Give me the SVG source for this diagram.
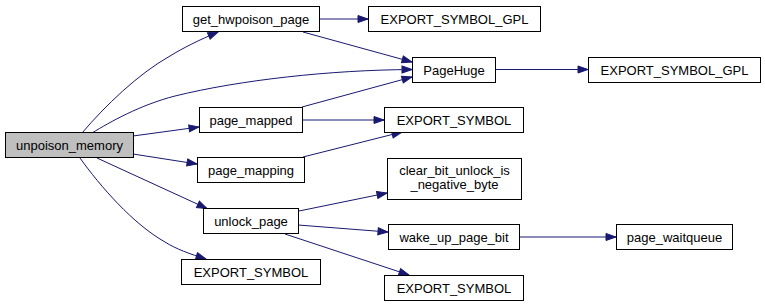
<svg xmlns="http://www.w3.org/2000/svg" width="765" height="307" viewBox="0 0 765 307">
  <style>
    .node rect { fill: #ffffff; stroke: #000000; stroke-width: 1; }
    .node.root rect { fill: #bfbfbf; }
    .node text { font-family: "Liberation Sans", Arial, sans-serif; font-size: 13px; fill: #000000; text-anchor: middle; }
    .edges path { fill: none; stroke: #191970; stroke-width: 1; marker-end: url(#arrow); }
  </style>
  <defs>
    <marker id="arrow" markerUnits="userSpaceOnUse" markerWidth="12" markerHeight="9" refX="11" refY="4" orient="auto" viewBox="0 0 12 8">
      <path d="M1,0.5 L11,4 L1,7.5 Z" fill="#191970" stroke="#191970" stroke-width="1"/>
    </marker>
  </defs>
  <rect width="765" height="307" fill="#ffffff"/>

  <g class="edges">
    <!-- unpoison_memory callees -->
    <path d="M82,133 C105,106 138,74 170,56 C183,48 199,40 218,32"/>
    <path d="M92,133 C110,122 140,105 175,96 C240,80 330,70 412,69.5"/>
    <path d="M133,136 L199,127"/>
    <path d="M133,154 L197,164"/>
    <path d="M97,158 L207,208.5"/>
    <path d="M80,158 C100,186 133,224 165,242 C176,249 190,254 206,259"/>
    <!-- get_hwpoison_page callees -->
    <path d="M319,19 L368,19"/>
    <path d="M303,32 L412,62"/>
    <!-- page_mapped callees -->
    <path d="M302,107 L412,77"/>
    <path d="M302,120 L384,120"/>
    <!-- page_mapping callee -->
    <path d="M303,157 L402,132"/>
    <!-- PageHuge callee -->
    <path d="M495,69.5 L588,69.5"/>
    <!-- unlock_page callees -->
    <path d="M299,211 L387,193"/>
    <path d="M298,225 L388,232"/>
    <path d="M285,234 L409,275"/>
    <!-- wake_up_page_bit callee -->
    <path d="M519,237 L616,237"/>
  </g>

  <g id="node-unpoison_memory" class="node root">
    <rect x="5.5" y="132.5" width="128" height="25"/>
    <text x="69.5" y="149.5">unpoison_memory</text>
  </g>
  <g id="node-get_hwpoison_page" class="node">
    <rect x="182.5" y="6.5" width="137" height="25"/>
    <text x="251" y="23.5">get_hwpoison_page</text>
  </g>
  <g id="node-export_symbol_gpl_1" class="node">
    <rect x="368.5" y="6.5" width="172" height="25"/>
    <text x="454.5" y="23.5">EXPORT_SYMBOL_GPL</text>
  </g>
  <g id="node-PageHuge" class="node">
    <rect x="412.5" y="57.5" width="83" height="25"/>
    <text x="454" y="74.5">PageHuge</text>
  </g>
  <g id="node-export_symbol_gpl_2" class="node">
    <rect x="588.5" y="57.5" width="172" height="25"/>
    <text x="674.5" y="74.5">EXPORT_SYMBOL_GPL</text>
  </g>
  <g id="node-page_mapped" class="node">
    <rect x="199.5" y="107.5" width="103" height="25"/>
    <text x="251" y="124.5">page_mapped</text>
  </g>
  <g id="node-export_symbol_1" class="node">
    <rect x="384.5" y="107.5" width="139" height="25"/>
    <text x="454" y="124.5">EXPORT_SYMBOL</text>
  </g>
  <g id="node-page_mapping" class="node">
    <rect x="197.5" y="157.5" width="107" height="25"/>
    <text x="251" y="174.5">page_mapping</text>
  </g>
  <g id="node-clear_bit_unlock_is_negative_byte" class="node">
    <rect x="387.5" y="158.5" width="134" height="41"/>
    <text x="454.5" y="175">clear_bit_unlock_is</text>
    <text x="454.5" y="189">_negative_byte</text>
  </g>
  <g id="node-unlock_page" class="node">
    <rect x="203.5" y="208.5" width="95" height="25"/>
    <text x="251" y="225.5">unlock_page</text>
  </g>
  <g id="node-wake_up_page_bit" class="node">
    <rect x="388.5" y="224.5" width="131" height="25"/>
    <text x="454" y="241.5">wake_up_page_bit</text>
  </g>
  <g id="node-page_waitqueue" class="node">
    <rect x="616.5" y="224.5" width="116" height="25"/>
    <text x="674.5" y="241.5">page_waitqueue</text>
  </g>
  <g id="node-export_symbol_2" class="node">
    <rect x="181.5" y="259.5" width="139" height="25"/>
    <text x="251" y="276.5">EXPORT_SYMBOL</text>
  </g>
  <g id="node-export_symbol_3" class="node">
    <rect x="384.5" y="275.5" width="139" height="25"/>
    <text x="454" y="292.5">EXPORT_SYMBOL</text>
  </g>
</svg>
